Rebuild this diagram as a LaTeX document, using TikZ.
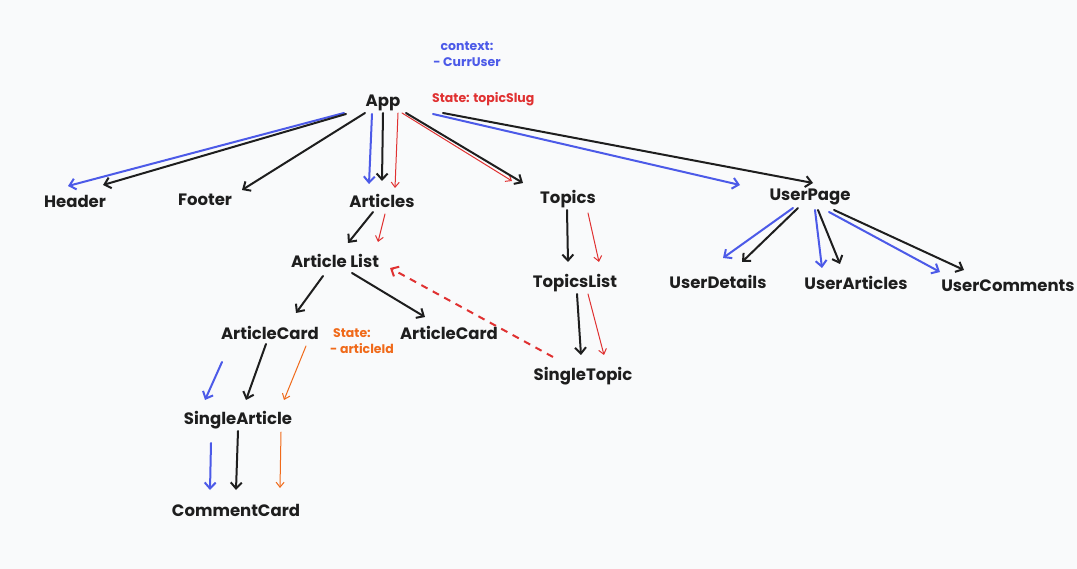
\documentclass[tikz,border=0pt]{standalone}
\usepackage{fontspec}
\setmainfont{Poppins}
\usetikzlibrary{arrows.meta}
\definecolor{bg}{RGB}{249,250,251}
\definecolor{ink}{RGB}{30,30,30}
\definecolor{ublue}{RGB}{76,90,232}
\definecolor{ured}{RGB}{224,49,49}
\definecolor{uorange}{RGB}{240,106,26}
\tikzset{
  lbl/.style={font=\bfseries\fontsize{16.5}{19}\selectfont, text=ink, inner sep=0pt},
  note/.style={font=\bfseries\fontsize{12.5}{16.5}\selectfont, inner sep=0pt, align=left},
  thk/.style={line width=2pt, line cap=round, -{Straight Barb[length=6pt,width=11pt,line width=2pt]}},
  thn/.style={line width=1pt, line cap=round, -{Straight Barb[length=5pt,width=8pt,line width=1pt]}},
  blk/.style={thk, draw=ink},
  blu/.style={thk, draw=ublue},
  rdl/.style={thn, draw=ured},
  orl/.style={thn, draw=uorange},
  dsh/.style={line width=2pt, draw=ured, dash pattern=on 7pt off 6pt, -{Straight Barb[length=6pt,width=11pt,line width=2pt]}}
}
\begin{document}
\begin{tikzpicture}[x=1pt,y=-1pt]
\fill[bg] (0,0) rectangle (1077,569);
\useasboundingbox (0,0) rectangle (1077,569);
% nodes
\node[lbl] (app) at (383,103) {App};
\node[lbl] (hdr) at (75,201) {Header};
\node[lbl] (ftr) at (205,200) {Footer};
\node[lbl] (arts) at (382,201) {Articles};
\node[lbl] (tops) at (568,199) {Topics};
\node[lbl] (up) at (810,197) {UserPage};
\node[lbl] (al) at (335,261) {Article List};
\node[lbl] (tl) at (575,283) {TopicsList};
\node[lbl] (ud) at (718,282) {UserDetails};
\node[lbl] (ua) at (856,283) {UserArticles};
\node[lbl] (uc) at (1008,286) {UserComments};
\node[lbl] (acl) at (270,333) {ArticleCard};
\node[lbl] (acr) at (449,333) {ArticleCard};
\node[lbl] (st) at (583,376) {SingleTopic};
\node[lbl] (sa) at (238,420) {SingleArticle};
\node[lbl] (cc) at (236,510) {CommentCard};
% notes
\node[note, text=ublue, align=center] (ctx) at (467,54) {context:\\- CurrUser};
\node[note, text=ured, anchor=west] (stt) at (432,99) {State: topicSlug};
\node[note, text=uorange, anchor=west] (sta) at (330,341) {\hspace*{3pt}State:\\- articleId};
% App
\draw[blu] ([shift={(-39,10)}]app.center) -- ([shift={(-7,-15)}]hdr.center);
\draw[blk] ([shift={(-37,11)}]app.center) -- ([shift={(28,-16)}]hdr.center);
\draw[blk] ([shift={(-18,10)}]app.center) -- ([shift={(37,-10)}]ftr.center);
\draw[blu] ([shift={(-11,11)}]app.center) -- ([shift={(-13,-17)}]arts.center);
\draw[blk] ([shift={(0,10)}]app.center) -- ([shift={(0,-20)}]arts.center);
\draw[rdl] ([shift={(15,10)}]app.center) -- ([shift={(13,-13)}]arts.center);
\draw[rdl] ([shift={(19,10)}]app.center) -- ([shift={(-56,-18)}]tops.center);
\draw[blk] ([shift={(23,10)}]app.center) -- ([shift={(-45,-16)}]tops.center);
\draw[blu] ([shift={(50,11)}]app.center) -- ([shift={(-70,-12)}]up.center);
\draw[blk] ([shift={(60,10)}]app.center) -- ([shift={(3,-14)}]up.center);
% UserPage
\draw[blu] ([shift={(-17,11)}]up.center) -- ([shift={(5,-24)}]ud.center);
\draw[blk] ([shift={(-12,11)}]up.center) -- ([shift={(24,-20)}]ud.center);
\draw[blu] ([shift={(5,13)}]up.center) -- ([shift={(-34,-15)}]ua.center);
\draw[blk] ([shift={(8,13)}]up.center) -- ([shift={(-16,-19)}]ua.center);
\draw[blu] ([shift={(19,15)}]up.center) -- ([shift={(-68,-14)}]uc.center);
\draw[blk] ([shift={(24,13)}]up.center) -- ([shift={(-44,-16)}]uc.center);
% Topics
\draw[blk] ([shift={(-1,11)}]tops.center) -- ([shift={(-7,-21)}]tl.center);
\draw[rdl] ([shift={(20,14)}]tops.center) -- ([shift={(24,-21)}]tl.center);
\draw[blk] ([shift={(2,11)}]tl.center) -- ([shift={(-2,-21)}]st.center);
\draw[rdl] ([shift={(13,11)}]tl.center) -- ([shift={(21,-21)}]st.center);
\draw[dsh] ([shift={(-30,-19)}]st.center) -- ([shift={(55,7)}]al.center);
% Articles
\draw[blk] ([shift={(-9,11)}]arts.center) -- ([shift={(13,-18)}]al.center);
\draw[rdl] ([shift={(3,13)}]arts.center) -- ([shift={(43,-19)}]al.center);
\draw[blk] ([shift={(-12,15)}]al.center) -- ([shift={(26,-20)}]acl.center);
\draw[blk] ([shift={(17,12)}]al.center) -- ([shift={(-24,-16)}]acr.center);
% ArticleCard
\draw[blu] ([shift={(-48,29)}]acl.center) -- ([shift={(-33,-20)}]sa.center);
\draw[blk] ([shift={(-4,11)}]acl.center) -- ([shift={(8,-20)}]sa.center);
\draw[orl] ([shift={(36,13)}]acl.center) -- ([shift={(46,-20)}]sa.center);
% SingleArticle
\draw[blu] ([shift={(-27,23)}]sa.center) -- ([shift={(-26,-20)}]cc.center);
\draw[blk] ([shift={(0,11)}]sa.center) -- ([shift={(0,-20)}]cc.center);
\draw[orl] ([shift={(43,12)}]sa.center) -- ([shift={(44,-22)}]cc.center);
\end{tikzpicture}
\end{document}
